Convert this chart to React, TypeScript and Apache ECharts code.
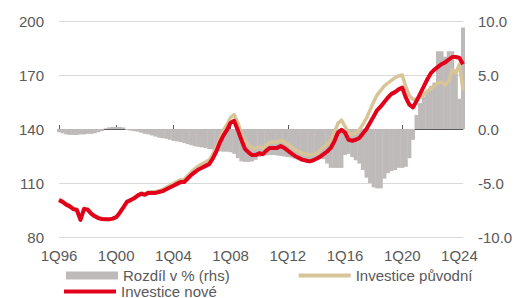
import React, { useEffect, useRef } from "react";
import * as echarts from "echarts";

const yearCodes = ["96","97","98","99","00","01","02","03","04","05","06","07","08","09","10","11","12","13","14","15","16","17","18","19","20","21","22","23","24"];
const quartersInLastYear = 2;
const categories: string[] = [];
yearCodes.forEach((y, yi) => {
  const n = yi === yearCodes.length - 1 ? quartersInLastYear : 4;
  for (let q = 1; q <= n; q++) categories.push(q + "Q" + y);
});

const investiceNove = [
  100.5, 99.5, 98, 97,
  95.5, 95, 89.5, 95.5,
  95.2, 93, 91.5, 90.5,
  90, 89.8, 89.8, 90.2,
  91, 93.5, 96.5, 99.5,
  100.5, 101.5, 103, 104,
  103.5, 104.5, 104.5, 104.5,
  105, 105.5, 106.5, 107.5,
  108.5, 109.5, 110.5, 110.5,
  112.5, 114.5, 116, 117.5,
  118.5, 119.5, 120.5, 123.5,
  127.5, 132.5, 136.5, 139.5,
  143.5, 144.5, 139.5, 134,
  129, 127, 125.5, 125.5,
  126.5, 126, 128, 129.5,
  129.5, 129.5, 130.5, 129.5,
  128, 126.5, 125, 124,
  123, 122.5, 122, 122.5,
  123.5, 124.5, 126, 127.5,
  129.5, 133, 138, 139.5,
  138, 134, 133.5, 134,
  135, 137.5, 140, 143.5,
  147, 150.5, 152.5, 155,
  157.5, 159.5, 160.5, 162,
  163, 157.5, 153.5, 152,
  155.5, 159.5, 163.5, 167.5,
  171, 173, 174.5, 176,
  177, 178.5, 180, 180,
  179.5, 176,
];

const investicePuvodni = [
  100.8, 100, 98.5, 97.5,
  96, 95.5, 90, 96,
  95.6, 93.4, 92, 90.8,
  90.2, 89.8, 89.7, 90,
  90.8, 93.3, 96.3, 99.5,
  100.6, 101.7, 103.3, 104.4,
  104, 105, 105.1, 105.2,
  105.8, 106.4, 107.5, 108.6,
  109.7, 110.8, 111.8, 112,
  114, 116.2, 117.8, 119.4,
  120.5, 121.6, 122.7, 125.8,
  130, 135.2, 139.4, 142.5,
  146.5, 148, 143.5, 138,
  133, 131, 129.3, 129.2,
  130, 129.3, 131.2, 132.6,
  132.6, 132.6, 133.8, 132.8,
  131.5, 130, 128.5, 127.5,
  126.5, 126, 125.5, 125.8,
  126.5, 128, 130, 131.5,
  133.5, 138, 143, 145,
  141.5, 137.5, 137, 138,
  139.5, 142.5, 146, 150.5,
  155, 159, 161.5, 164,
  165.5, 167, 168.5, 169.5,
  170, 163.5, 158.5, 156.5,
  156.5, 157.5, 159, 161,
  162.5, 164, 165.5, 166,
  164.5, 166.5, 173, 171,
  176, 161.5,
];

const rozdil = [
  -0.3, -0.4, -0.5, -0.55,
  -0.55, -0.55, -0.5, -0.5,
  -0.45, -0.45, -0.4, -0.3,
  -0.2, 0.05, 0.15, 0.2,
  0.2, 0.2, 0.15, -0.1,
  -0.15, -0.2, -0.25, -0.35,
  -0.45, -0.5, -0.6, -0.7,
  -0.8, -0.85, -0.9, -1.0,
  -1.1, -1.15, -1.2, -1.3,
  -1.4, -1.5, -1.6, -1.65,
  -1.7, -1.75, -1.85, -1.9,
  -2.0, -2.05, -2.1, -2.1,
  -2.15, -2.3, -2.7, -3.0,
  -3.05, -3.05, -3.0, -2.85,
  -2.6, -2.5, -2.45, -2.4,
  -2.4, -2.45, -2.5, -2.55,
  -2.6, -2.65, -2.75, -2.9,
  -3.0, -3.0, -2.9, -2.8,
  -2.7, -2.7, -2.8, -3.2,
  -3.6, -3.6, -3.6, -3.6,
  -2.4, -2.3, -2.6, -2.9,
  -3.2, -3.8, -4.5, -5.0,
  -5.4, -5.5, -5.5, -4.6,
  -4.1, -3.9, -3.8, -3.6,
  -3.6, -3.5, -2.7, -1.0,
  1.3, 2.4, 3.0, 3.6,
  4.0, 4.3, 7.2, 7.2,
  6.7, 7.2, 7.2, 5.5,
  2.8, 9.4,
];

const leftTicks = { min: 80, max: 200, interval: 30 };
const rightTicks = { min: -10, max: 10, interval: 5 };

const FONT = "'Liberation Sans', Arial, sans-serif";
const TEXT = "#595959";
const RED = "#e2001a";
const TAN = "#d8c597";
const GRAY = "#bfbaba";
const LINE_ICON = "path://M0,0h52v4h-52z";

export default function App() {
  const ref = useRef<HTMLDivElement>(null);
  useEffect(() => {
    document.body.style.margin = "0";
    if (!ref.current) return;
    const chart = echarts.init(ref.current, null, { renderer: "svg" });
    const labelEvery = (i: number) => i % 16 === 0;
    chart.setOption({
      animation: false,
      textStyle: { fontFamily: FONT },
      grid: { left: 59, right: 65, top: 21, bottom: 61, containLabel: false },
      legend: [
        {
          left: 66,
          top: 268,
          padding: 0,
          itemWidth: 52,
          itemHeight: 8,
          itemGap: 69,
          textStyle: { color: TEXT, fontSize: 15, fontFamily: FONT },
          data: [
            { name: "Rozdíl v % (rhs)", icon: "rect" },
            { name: "Investice původní", icon: LINE_ICON },
          ],
        },
        {
          left: 64,
          top: 284,
          padding: 0,
          itemWidth: 52,
          itemHeight: 8,
          textStyle: { color: TEXT, fontSize: 15, fontFamily: FONT },
          data: [{ name: "Investice nové", icon: LINE_ICON }],
        },
      ],
      xAxis: {
        type: "category",
        data: categories,
        boundaryGap: false,
        axisLine: { show: true, lineStyle: { color: TEXT, width: 1 } },
        axisTick: { show: true, inside: true, length: 4, interval: labelEvery, lineStyle: { color: TEXT } },
        axisLabel: { interval: labelEvery, color: TEXT, fontSize: 15, fontFamily: FONT, margin: 11 },
        splitLine: { show: false },
      },
      yAxis: [
        {
          type: "value",
          position: "left",
          min: leftTicks.min,
          max: leftTicks.max,
          interval: leftTicks.interval,
          axisLine: { show: false },
          axisTick: { show: false },
          axisLabel: { color: TEXT, fontSize: 15, fontFamily: FONT, margin: 15 },
          splitLine: { show: true, lineStyle: { color: "#d9d9d9", width: 1 } },
        },
        {
          type: "value",
          position: "right",
          min: rightTicks.min,
          max: rightTicks.max,
          interval: rightTicks.interval,
          axisLine: { show: false },
          axisTick: { show: false },
          axisLabel: { color: TEXT, fontSize: 15, fontFamily: FONT, margin: 15, formatter: (v: number) => v.toFixed(1) },
          splitLine: { show: false },
        },
      ],
      series: [
        {
          name: "Rozdíl v % (rhs)",
          type: "bar",
          yAxisIndex: 1,
          data: rozdil,
          barWidth: 4,
          itemStyle: { color: GRAY },
          z: 1,
        },
        {
          name: "Investice původní",
          type: "line",
          yAxisIndex: 0,
          data: investicePuvodni,
          symbol: "none",
          lineStyle: { color: TAN, width: 3.5, join: "round" },
          itemStyle: { color: TAN },
          z: 2,
        },
        {
          name: "Investice nové",
          type: "line",
          yAxisIndex: 0,
          data: investiceNove,
          symbol: "none",
          lineStyle: { color: RED, width: 4, join: "round" },
          itemStyle: { color: RED },
          z: 3,
        },
      ],
    });
    return () => chart.dispose();
  }, []);
  return <div ref={ref} style={{ width: 528, height: 298 }} />;
}
